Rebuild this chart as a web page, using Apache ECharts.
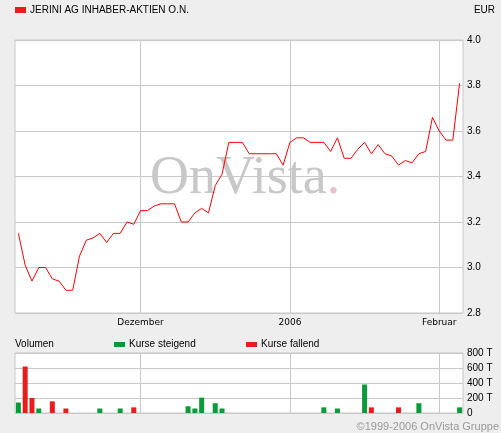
<!DOCTYPE html>
<html>
<head>
<meta charset="utf-8">
<script src="https://cdn.jsdelivr.net/npm/echarts@6/dist/echarts.min.js"></script>
<style>
html,body{margin:0;padding:0;background:#eeeeee;}
#chart{width:501px;height:433px;}
</style>
</head>
<body>
<div id="chart"></div>
<script>
// Trading days (Xetra), 7 Nov 2005 – 6 Feb 2006
const dates = [
  '2005-11-07','2005-11-08','2005-11-09','2005-11-10','2005-11-11',
  '2005-11-14','2005-11-15','2005-11-16','2005-11-17','2005-11-18',
  '2005-11-21','2005-11-22','2005-11-23','2005-11-24','2005-11-25',
  '2005-11-28','2005-11-29','2005-11-30',
  '2005-12-01','2005-12-02',
  '2005-12-05','2005-12-06','2005-12-07','2005-12-08','2005-12-09',
  '2005-12-12','2005-12-13','2005-12-14','2005-12-15','2005-12-16',
  '2005-12-19','2005-12-20','2005-12-21','2005-12-22','2005-12-23',
  '2005-12-26','2005-12-27','2005-12-28','2005-12-29','2005-12-30',
  '2006-01-02','2006-01-03','2006-01-04','2006-01-05','2006-01-06',
  '2006-01-09','2006-01-10','2006-01-11','2006-01-12','2006-01-13',
  '2006-01-16','2006-01-17','2006-01-18','2006-01-19','2006-01-20',
  '2006-01-23','2006-01-24','2006-01-25','2006-01-26','2006-01-27',
  '2006-01-30','2006-01-31',
  '2006-02-01','2006-02-02','2006-02-03','2006-02-06'
];
// Closing prices in EUR
const prices = [
  3.15, 3.01, 2.94, 3.00, 3.00, 2.95, 2.94, 2.90, 2.90, 3.05,
  3.12, 3.13, 3.15, 3.11, 3.15, 3.15, 3.20, 3.19, 3.25, 3.25,
  3.27, 3.28, 3.28, 3.28, 3.20, 3.20, 3.24, 3.26, 3.24, 3.36,
  3.41, 3.55, 3.55, 3.55, 3.50, 3.50, 3.50, 3.50, 3.50, 3.45,
  3.55, 3.57, 3.57, 3.55, 3.55, 3.55, 3.51, 3.57, 3.48, 3.48,
  3.52, 3.55, 3.50, 3.54, 3.50, 3.49, 3.45, 3.47, 3.46, 3.50,
  3.51, 3.66, 3.60, 3.56, 3.56, 3.81
];
// Volume in thousands (T): rising days / falling days
const volUp = [
  140, '-', '-', 60, '-', '-', '-', '-', '-', '-',
  '-', '-', 60, '-', '-', 60, '-', '-', '-', '-',
  '-', '-', '-', '-', '-', 90, 60, 205, '-', 130,
  60, '-', '-', '-', '-', '-', '-', '-', '-', '-',
  '-', '-', '-', '-', '-', 75, '-', 60, '-', '-',
  '-', 380, '-', '-', '-', '-', '-', '-', '-', 130,
  '-', '-', '-', '-', '-', 75
];
const volDown = [
  '-', 620, 200, '-', '-', 155, '-', 60, '-', '-',
  '-', '-', '-', '-', '-', '-', '-', 75, '-', '-',
  '-', '-', '-', '-', '-', '-', '-', '-', '-', '-',
  '-', '-', '-', '-', '-', '-', '-', '-', '-', '-',
  '-', '-', '-', '-', '-', '-', '-', '-', '-', '-',
  '-', '-', 75, '-', '-', '-', 75, '-', '-', '-',
  '-', '-', '-', '-', '-', '-'
];
// Month tick marks on the time axis
const tickDates = ['2005-12-01', '2006-01-02', '2006-02-01'];
const tickLabels = ['Dezember', '2006', 'Februar'];

const GRID_C = '#c8c8c8';
const chart = echarts.init(document.getElementById('chart'), null, {renderer: 'canvas'});

const monthLines = {
  silent: true,
  symbol: 'none',
  z: 1,
  label: {show: false},
  lineStyle: {color: GRID_C, type: 'solid', width: 1},
  emphasis: {disabled: true},
  data: tickDates.map(d => ({xAxis: d}))
};

chart.setOption({
  animation: false,
  backgroundColor: '#eeeeee',
  grid: [
    {left: 15, right: 38, top: 40, height: 273, show: true, backgroundColor: '#ffffff', borderColor: GRID_C, borderWidth: 1},
    {left: 15, right: 38, top: 353, height: 60, show: true, backgroundColor: '#ffffff', borderColor: GRID_C, borderWidth: 1}
  ],
  xAxis: [
    {
      type: 'category', gridIndex: 0, data: dates, boundaryGap: true,
      axisLine: {show: false}, axisTick: {show: false}, splitLine: {show: false},
      axisLabel: {
        interval: (i, v) => tickDates.indexOf(v) >= 0,
        formatter: v => tickLabels[tickDates.indexOf(v)],
        color: '#000', fontFamily: 'DejaVu Sans', fontSize: 9, margin: 5
      }
    },
    {
      type: 'category', gridIndex: 1, data: dates, boundaryGap: true,
      axisLine: {show: false}, axisTick: {show: false}, splitLine: {show: false},
      axisLabel: {show: false}
    }
  ],
  yAxis: [
    {
      type: 'value', gridIndex: 0, position: 'right', min: 2.8, max: 4.0, interval: 0.2,
      axisLine: {show: false}, axisTick: {show: false},
      splitLine: {lineStyle: {color: GRID_C, width: 1}},
      axisLabel: {formatter: v => v.toFixed(1), color: '#000', fontFamily: 'Liberation Sans', fontSize: 10, margin: 4}
    },
    {
      type: 'value', gridIndex: 1, position: 'right', min: 0, max: 800, interval: 200,
      axisLine: {show: false}, axisTick: {show: false},
      splitLine: {lineStyle: {color: GRID_C, width: 1}},
      axisLabel: {formatter: v => v === 0 ? '0' : v + ' T', color: '#000', fontFamily: 'Liberation Sans', fontSize: 10, margin: 4}
    }
  ],
  series: [
    {
      type: 'line', xAxisIndex: 0, yAxisIndex: 0, data: prices, z: 3,
      symbol: 'none', lineStyle: {color: '#ff0000', width: 1}, silent: true,
      markLine: monthLines
    },
    {
      type: 'bar', xAxisIndex: 1, yAxisIndex: 1, data: volUp, stack: 'v', barWidth: 5,
      itemStyle: {color: '#0a9a3a'}, silent: true,
      markLine: monthLines
    },
    {
      type: 'bar', xAxisIndex: 1, yAxisIndex: 1, data: volDown, stack: 'v', barWidth: 5,
      itemStyle: {color: '#e81c1c'}, silent: true
    }
  ],
  graphic: [
    {type: 'text', z: 1, silent: true, x: 150, y: 179, style: {
      text: '{a|OnVista}{b|.}', verticalAlign: 'middle',
      rich: {
        a: {fill: '#c8c8c8', font: '54px "Liberation Serif"'},
        b: {fill: '#e6c3cb', font: '54px "Liberation Serif"'}
      }
    }},
    {type: 'rect', silent: true, shape: {x: 15, y: 7, width: 11, height: 6}, style: {fill: '#e81c1c'}},
    {type: 'text', silent: true, x: 30, y: 10, style: {text: 'JERINI AG INHABER-AKTIEN O.N.', font: '10px "Liberation Sans"', fill: '#000', verticalAlign: 'middle'}},
    {type: 'text', silent: true, x: 495, y: 10, style: {text: 'EUR', font: '10px "Liberation Sans"', fill: '#000', align: 'right', verticalAlign: 'middle'}},
    {type: 'text', silent: true, x: 15, y: 344, style: {text: 'Volumen', font: '10px "Liberation Sans"', fill: '#000', verticalAlign: 'middle'}},
    {type: 'rect', silent: true, shape: {x: 114, y: 342, width: 11, height: 5}, style: {fill: '#0a9a3a'}},
    {type: 'text', silent: true, x: 129, y: 344, style: {text: 'Kurse steigend', font: '10px "Liberation Sans"', fill: '#000', verticalAlign: 'middle'}},
    {type: 'rect', silent: true, shape: {x: 246, y: 342, width: 11, height: 5}, style: {fill: '#e81c1c'}},
    {type: 'text', silent: true, x: 261, y: 344, style: {text: 'Kurse fallend', font: '10px "Liberation Sans"', fill: '#000', verticalAlign: 'middle'}},
    {type: 'text', silent: true, x: 499, y: 427, style: {text: '©1999-2006 OnVista Gruppe', font: '11px "Liberation Sans"', fill: '#999999', align: 'right', verticalAlign: 'middle'}}
  ]
});
</script>
</body>
</html>
